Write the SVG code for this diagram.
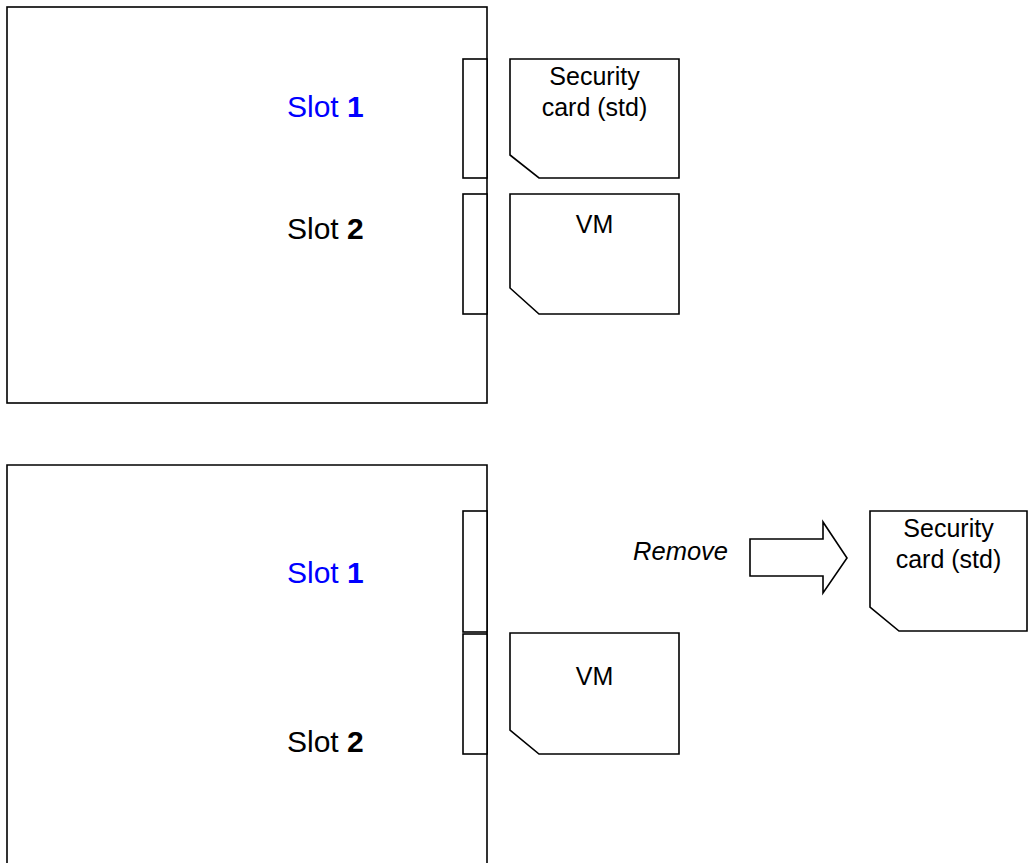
<svg xmlns="http://www.w3.org/2000/svg" width="1028" height="863" viewBox="0 0 1028 863">
<style>
.ln{fill:#fff;stroke:#000;stroke-width:1.6}
.slot{font-family:"Liberation Sans",Arial,sans-serif;font-size:30px}
.blue{fill:#0000ff}
.card{font-family:"Liberation Sans",Arial,sans-serif;font-size:25px;text-anchor:middle;fill:#000}
.it{font-family:"Liberation Sans",Arial,sans-serif;font-size:25.5px;font-style:italic;text-anchor:end}
</style>
<rect width="1028" height="863" fill="#fff"/>
<g id="unit-top">
<rect class="ln" x="7" y="7" width="480" height="396"/>
<text class="slot blue" x="287" y="117">Slot <tspan font-weight="bold">1</tspan></text>
<text class="slot" x="287" y="239">Slot <tspan font-weight="bold">2</tspan></text>
</g>
<g id="slot1-top"><rect class="ln" x="463" y="59" width="24" height="119"/></g>
<g id="slot2-top"><rect class="ln" x="463" y="194" width="24" height="120"/></g>
<g id="card-security-top">
<path class="ln" d="M510 59 H679 V178 H539 L510 155 Z"/>
<text class="card" x="594.5" y="85">Security</text>
<text class="card" x="594.5" y="116">card (std)</text>
</g>
<g id="card-vm-top">
<path class="ln" d="M510 194 H679 V314 H539 L510 288 Z"/>
<text class="card" x="594.5" y="233">VM</text>
</g>
<g id="unit-bottom">
<path class="ln" d="M7 870 V465 H487 V870"/>
<text class="slot blue" x="287" y="583">Slot <tspan font-weight="bold">1</tspan></text>
<text class="slot" x="287" y="752">Slot <tspan font-weight="bold">2</tspan></text>
</g>
<g id="slot1-bottom"><rect class="ln" x="463" y="511" width="24" height="121"/></g>
<g id="slot2-bottom"><rect class="ln" x="463" y="634" width="24" height="120"/></g>
<g id="card-vm-bottom">
<path class="ln" d="M510 633 H679 V754 H539 L510 730 Z"/>
<text class="card" x="594.5" y="685">VM</text>
</g>
<g id="card-security-bottom">
<path class="ln" d="M870 511 H1027 V631 H899 L870 607 Z"/>
<text class="card" x="948.5" y="537">Security</text>
<text class="card" x="948.5" y="568">card (std)</text>
</g>
<g id="connectors">
<path class="ln" d="M750 539 H823 V522 L847 558 L823 593 V576 H750 Z"/>
<text class="it" x="728" y="560">Remove</text>
</g>
</svg>
